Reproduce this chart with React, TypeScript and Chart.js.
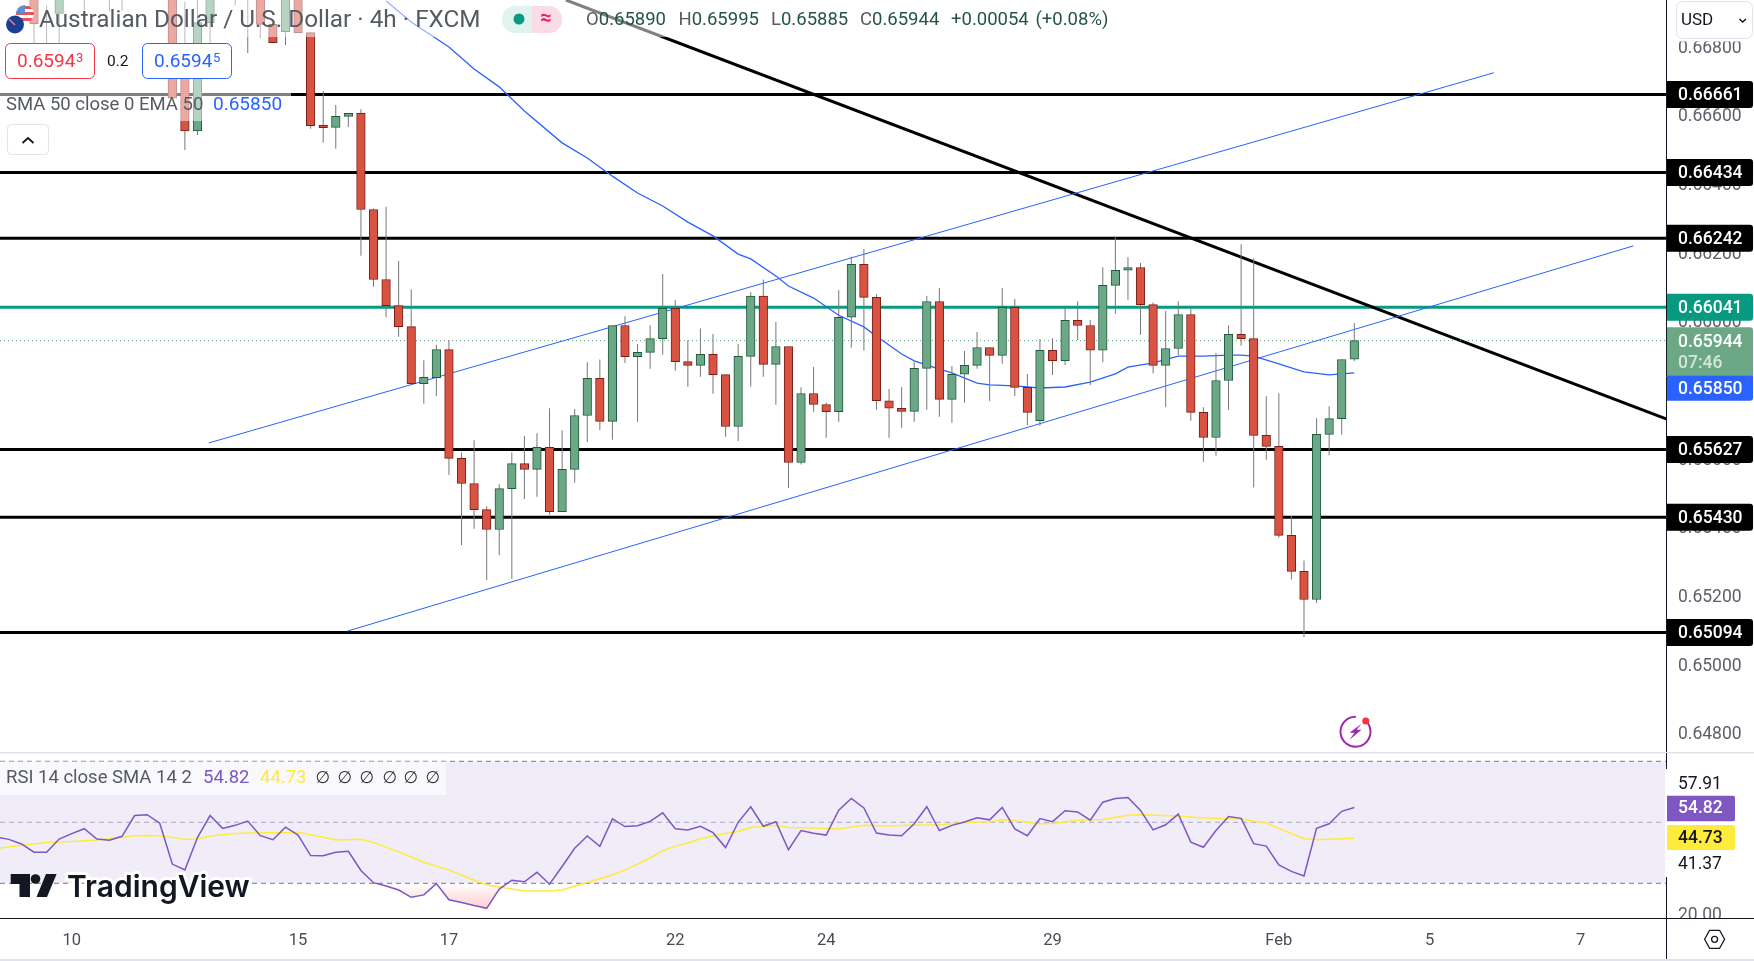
import React, { useEffect, useRef } from "react";
import { Chart, registerables } from "chart.js";

Chart.register(...registerables);

const FONT = "Roboto, 'DejaVu Sans', sans-serif";

// candle index 0 is the first bar in view; tops above 0.669 are off the visible range
const opens = [
  0.6699, 0.6679, 0.66897, 0.6677, 0.6696, 0.67, 0.6699, 0.6696, 0.6699, 0.6679, 0.6677, 0.6699, 0.6672, 0.66555,
  0.6687, 0.6678, 0.6696, 0.6699, 0.6699, 0.66865, 0.66844, 0.6699, 0.66841, 0.66571, 0.66565, 0.66597, 0.66606,
  0.66326, 0.66122, 0.66046, 0.65985, 0.65819, 0.65836, 0.65918, 0.65601, 0.65528, 0.65452, 0.65394, 0.65513,
  0.65586, 0.65569, 0.65633, 0.65446, 0.65569, 0.65726, 0.65834, 0.65709, 0.65988, 0.65897, 0.6591, 0.6595, 0.66038,
  0.65883, 0.65872, 0.65904, 0.65845, 0.65694, 0.65898, 0.66074, 0.65875, 0.65927, 0.65589, 0.6579, 0.65758, 0.65737,
  0.66012, 0.66166, 0.6607, 0.65769, 0.65747, 0.65738, 0.65863, 0.66058, 0.65773, 0.65846, 0.65872, 0.65924, 0.65901,
  0.66041, 0.65808, 0.65711, 0.65916, 0.65886, 0.66003, 0.65988, 0.65916, 0.66105, 0.66149, 0.66157, 0.66049, 0.65872,
  0.65921, 0.6602, 0.65735, 0.65662, 0.65828, 0.65962, 0.6595, 0.65668, 0.65636, 0.65377, 0.65272, 0.6519, 0.65671,
  0.65717, 0.6589,
];
const highs = [
  0.6702, 0.66921, 0.6702, 0.668, 0.6701, 0.6702, 0.6701, 0.67, 0.6703, 0.668, 0.66805, 0.6701, 0.66931, 0.6695,
  0.6701, 0.668, 0.6701, 0.6702, 0.6701, 0.66865, 0.6701, 0.6701, 0.66841, 0.66671, 0.6663, 0.66606, 0.66618, 0.66329,
  0.66334, 0.66176, 0.66094, 0.65887, 0.65931, 0.65945, 0.65618, 0.65654, 0.65462, 0.65526, 0.65618, 0.65666, 0.65674,
  0.65747, 0.65683, 0.65745, 0.65881, 0.65889, 0.65988, 0.66015, 0.65934, 0.65989, 0.66138, 0.66062, 0.65945, 0.65979,
  0.65963, 0.65845, 0.65934, 0.66085, 0.66122, 0.65998, 0.65927, 0.65808, 0.65867, 0.65764, 0.66091, 0.66188, 0.66211,
  0.66079, 0.65803, 0.65809, 0.65882, 0.66074, 0.66097, 0.6587, 0.65914, 0.65969, 0.65924, 0.66097, 0.66065, 0.65847,
  0.65949, 0.65951, 0.66041, 0.66059, 0.66004, 0.66158, 0.66247, 0.66187, 0.6617, 0.66055, 0.6603, 0.66059, 0.66036,
  0.6575, 0.65908, 0.65989, 0.66225, 0.66183, 0.65782, 0.65791, 0.65433, 0.65304, 0.65718, 0.65753, 0.65889, 0.65995,
];
const lows = [
  0.6681, 0.6672, 0.6681, 0.6673, 0.66907, 0.6696, 0.66902, 0.66905, 0.6695, 0.6674, 0.6673, 0.6665, 0.66499, 0.66543,
  0.6681, 0.6673, 0.66921, 0.66782, 0.66826, 0.66812, 0.66805, 0.66841, 0.66561, 0.6652, 0.66503, 0.66566, 0.66191,
  0.66101, 0.66012, 0.65955, 0.65814, 0.6576, 0.65783, 0.65553, 0.65349, 0.65396, 0.65247, 0.6532, 0.6525, 0.65483,
  0.65489, 0.65437, 0.65446, 0.6553, 0.65649, 0.65684, 0.65655, 0.65879, 0.65708, 0.65862, 0.65903, 0.65856, 0.6581,
  0.65839, 0.65789, 0.65664, 0.65652, 0.6581, 0.65839, 0.65757, 0.65515, 0.65583, 0.65737, 0.65661, 0.65708, 0.65923,
  0.65915, 0.65743, 0.65661, 0.6569, 0.65708, 0.65743, 0.65722, 0.65705, 0.65763, 0.65862, 0.65768, 0.65877, 0.65783,
  0.65698, 0.65696, 0.65844, 0.65873, 0.65946, 0.65815, 0.65881, 0.66022, 0.66063, 0.65961, 0.65848, 0.65751, 0.65902,
  0.65711, 0.65591, 0.65609, 0.65742, 0.65929, 0.65516, 0.65597, 0.6537, 0.65248, 0.65081, 0.6518, 0.6561, 0.6567,
  0.65885,
];
const closes = [
  0.66866, 0.6677, 0.6699, 0.6679, 0.6699, 0.6698, 0.6696, 0.6699, 0.6701, 0.6677, 0.6679, 0.6665, 0.66555, 0.6687,
  0.6699, 0.6676, 0.6699, 0.6696, 0.66865, 0.66812, 0.6699, 0.66841, 0.6657, 0.66564, 0.66597, 0.66606, 0.66326,
  0.66122, 0.66046, 0.65985, 0.65819, 0.65837, 0.65918, 0.65601, 0.65528, 0.65452, 0.65394, 0.65513, 0.65586, 0.65569,
  0.65633, 0.65446, 0.65569, 0.65726, 0.65834, 0.65709, 0.65988, 0.65897, 0.6591, 0.6595, 0.66038, 0.65883, 0.65872,
  0.65904, 0.65845, 0.65694, 0.65898, 0.66074, 0.65875, 0.65927, 0.65589, 0.6579, 0.65758, 0.65737, 0.66012, 0.66166,
  0.6607, 0.65769, 0.65747, 0.65738, 0.65863, 0.66058, 0.65773, 0.65846, 0.65872, 0.65924, 0.65901, 0.66041, 0.65808,
  0.65735, 0.65916, 0.65886, 0.66003, 0.65988, 0.65916, 0.66105, 0.66149, 0.66157, 0.66049, 0.65872, 0.65921, 0.6602,
  0.65735, 0.65662, 0.65828, 0.65962, 0.6595, 0.65668, 0.65636, 0.65377, 0.65272, 0.6519, 0.65671, 0.65717, 0.65889,
  0.65944,
];

const emaIndex = [
  28, 30, 33, 35, 37, 39, 42, 44, 46, 48, 50, 52, 54, 56, 57, 59, 60, 62, 64, 66, 67, 69, 70, 72, 73, 75, 76, 78, 80,
  82, 84, 86, 87, 89, 91, 93, 95, 96, 97, 99, 101, 103, 104, 105,
];
const emaValues = [
  0.66933, 0.66872, 0.66799, 0.66735, 0.66683, 0.66613, 0.6652, 0.66476, 0.66423, 0.66374, 0.66336, 0.66289, 0.66249,
  0.66196, 0.66182, 0.66132, 0.66103, 0.66068, 0.66018, 0.65984, 0.65957, 0.65905, 0.65885, 0.65861, 0.6585, 0.6582,
  0.65815, 0.65812, 0.65806, 0.65809, 0.65823, 0.65847, 0.65867, 0.65879, 0.65899, 0.65899, 0.65902, 0.65902, 0.65899,
  0.65876, 0.65853, 0.65844, 0.65847, 0.6585,
];

// rsi starts three bars before index 0, just off the left edge
const rsiStart = -3;
const rsiValues = [
  45.2, 44.4, 42.9, 40.2, 40.2, 44.5, 46.3, 47.9, 44.5, 44.1, 45.4, 52.2, 52.5, 49.7, 36.3, 34.4, 45.0, 52.2, 48.0,
  49.0, 50.4, 45.6, 44.3, 48.4, 45.8, 39.1, 39.0, 40.2, 40.5, 34.2, 30.2, 29.1, 27.8, 25.4, 26.2, 29.9, 24.6, 23.7,
  22.7, 21.8, 28.1, 31.0, 30.5, 33.6, 29.7, 35.5, 41.5, 45.5, 42.1, 51.1, 48.6, 48.9, 50.3, 53.1, 47.9, 47.5, 48.7,
  46.6, 41.7, 50.0, 55.1, 48.7, 50.2, 41.0, 47.3, 46.4, 45.8, 54.0, 57.8, 54.7, 46.5, 45.8, 45.6, 49.5, 55.1, 47.3,
  49.0, 50.1, 51.5, 50.8, 54.9, 47.8, 45.6, 51.2, 50.2, 53.8, 53.4, 50.7, 56.6, 57.8, 58.1, 53.9, 47.5, 49.2, 52.7,
  43.5, 41.8, 47.3, 51.9, 51.3, 43.0, 42.2, 36.0, 33.9, 32.4, 48.0, 49.5, 53.6, 54.82,
];
const smaIndex = [
  -3, -1, 1, 3, 5, 6, 8, 9, 10, 12, 13, 14, 16, 18, 20, 21, 23, 24, 26, 27, 29, 31, 33, 35, 36, 37, 39, 41, 42, 43, 45,
  46, 47, 48, 49, 50, 51, 52, 53, 54, 55, 56, 57, 59, 60, 62, 64, 66, 68, 70, 72, 74, 76, 77, 78, 80, 81, 83, 85, 87,
  88, 91, 93, 95, 96, 98, 99, 101, 102, 105,
];
const smaValues = [
  41.4, 42.5, 43.4, 43.7, 44.2, 44.6, 45.6, 45.7, 45.6, 44.4, 44.5, 45.5, 46.3, 46.6, 46.6, 46.7, 45.1, 44.2, 44.4,
  43.4, 40.3, 36.9, 34.4, 31.0, 29.5, 28.8, 27.5, 27.5, 27.8, 29.1, 31.5, 32.7, 34.4, 36.3, 38.3, 40.7, 42.1, 43.2,
  44.6, 45.5, 46.3, 47.0, 48.3, 49.0, 48.3, 48.1, 47.8, 49.0, 48.8, 49.1, 49.1, 49.9, 50.2, 50.8, 50.5, 49.5, 49.6,
  50.7, 50.9, 52.3, 52.5, 52.1, 51.4, 51.2, 51.1, 49.8, 48.0, 44.6, 44.3, 44.73,
];

const levels = [0.66661, 0.66434, 0.66242, 0.65627, 0.6543, 0.65094];
const pivotLevel = 0.66041;
const lastPrice = 0.65944;
const emaLast = 0.6585;
const priceTicks = [0.648, 0.65, 0.652, 0.654, 0.656, 0.658, 0.66, 0.662, 0.664, 0.666, 0.668];

const trendLine = { x: [42.3, 129.8], y: [0.66936, 0.65716] };
const channelUpper = { x: [13.9, 116.1], y: [0.65646, 0.66724] };
const channelLower = { x: [24.92, 127.2], y: [0.65098, 0.6622] };

const timeTicks = [3, 21, 33, 51, 63, 81, 99, 111, 123];
const timeLabels = ["10", "15", "17", "22", "24", "29", "Feb", "5", "7"];
const rsiTickValues = [63, 36.6, 20];
const rsiTickLabels = ["57.91", "41.37", "20.00"];

const xMin = -2.704;
const xMax = 129.79;
const UP = "#6ca886";
const UP_EDGE = "#1e5b3e";
const DOWN = "#d95342";
const DOWN_EDGE = "#7a1e18";
const BLUE = "#2962ff";
const TEAL = "#089981";
const PURPLE = "#7e57c2";
const YELLOW = "#ffeb3b";

type Ctx = CanvasRenderingContext2D;

// Roboto sits a bit high on a "middle" baseline, hence the 1.5
const text = (ctx: Ctx, s: string, x: number, y: number, color: string, size: number, weight = "400", align: CanvasTextAlign = "left") => {
  ctx.font = `${weight} ${size}px ${FONT}`;
  ctx.fillStyle = color;
  ctx.textAlign = align;
  ctx.textBaseline = "middle";
  ctx.fillText(s, x, y + 1.5);
};

const roundBox = (ctx: Ctx, x: number, y: number, w: number, h: number, r: number | number[], fill?: string, stroke?: string) => {
  ctx.beginPath();
  ctx.roundRect(x, y, w, h, r);
  if (fill) {
    ctx.fillStyle = fill;
    ctx.fill();
  }
  if (stroke) {
    ctx.strokeStyle = stroke;
    ctx.lineWidth = 1;
    ctx.stroke();
  }
};

const axisTag = (ctx: Ctx, label: string, y: number, fill: string, color = "#ffffff") => {
  roundBox(ctx, 1667, y - 13.5, 86, 27, [0, 3, 3, 0], fill);
  text(ctx, label, 1678, y, color, 17.5, "500");
};

const drawFlags = (ctx: Ctx) => {
  ctx.save();
  ctx.beginPath();
  ctx.arc(25, 14, 9, 0, Math.PI * 2);
  ctx.clip();
  ctx.fillStyle = "#ffffff";
  ctx.fillRect(15, 4, 20, 20);
  ctx.fillStyle = "#e8505b";
  ctx.fillRect(15, 6, 20, 3);
  ctx.fillRect(15, 12, 20, 3);
  ctx.fillRect(15, 18, 20, 3);
  ctx.fillStyle = "#5b8fd6";
  ctx.fillRect(15, 4, 10, 9);
  ctx.restore();
  ctx.beginPath();
  ctx.arc(15, 24.5, 9, 0, Math.PI * 2);
  ctx.fillStyle = "#1c3f94";
  ctx.fill();
  ctx.strokeStyle = "#e8808a";
  ctx.lineWidth = 1.5;
  ctx.beginPath();
  ctx.moveTo(9, 19);
  ctx.lineTo(15, 25);
  ctx.stroke();
};

const drawBolt = (ctx: Ctx) => {
  const cx = 1355.5;
  const cy = 731.7;
  ctx.strokeStyle = "#9c27b0";
  ctx.lineWidth = 2;
  ctx.beginPath();
  ctx.arc(cx, cy, 15, -0.9, Math.PI * 2 - 1.55);
  ctx.stroke();
  ctx.fillStyle = "#9c27b0";
  ctx.beginPath();
  ctx.moveTo(cx + 6, cy - 8);
  ctx.lineTo(cx - 6, cy + 1);
  ctx.lineTo(cx - 1, cy + 1);
  ctx.lineTo(cx - 6, cy + 8);
  ctx.lineTo(cx + 6, cy - 2);
  ctx.lineTo(cx + 1, cy - 2);
  ctx.closePath();
  ctx.fill();
  ctx.fillStyle = "#f23645";
  ctx.beginPath();
  ctx.arc(cx + 10.3, cy - 10.7, 3.6, 0, Math.PI * 2);
  ctx.fill();
};

const mainOverlay = {
  id: "mainOverlay",
  afterDraw(chart: any) {
    const ctx: Ctx = chart.ctx;
    const y = chart.scales.y;
    ctx.save();

    // legend wash over the candles and lines
    ctx.fillStyle = "rgba(255,255,255,0.5)";
    ctx.fillRect(0, 0, 1115, 37);
    ctx.fillRect(0, 37, 236, 48);
    ctx.fillRect(0, 85, 291, 36);

    drawFlags(ctx);
    text(ctx, "Australian Dollar / U.S. Dollar · 4h · FXCM", 39, 19, "#555a63", 24.3);

    roundBox(ctx, 502, 6, 30, 27, [13, 0, 0, 13], "#e0f3ef");
    roundBox(ctx, 532, 6, 30, 27, [0, 13, 13, 0], "#fbdbe6");
    ctx.fillStyle = TEAL;
    ctx.beginPath();
    ctx.arc(519, 19, 5.5, 0, Math.PI * 2);
    ctx.fill();
    text(ctx, "≈", 546, 17, "#e91e63", 20, "700", "center");

    const ohlc: [string, string, number][] = [
      ["O", "0.65890", 586],
      ["H", "0.65995", 678.5],
      ["L", "0.65885", 771],
      ["C", "0.65944", 860],
    ];
    ohlc.forEach(([k, v, x]) => {
      text(ctx, k, x, 19, "#555a63", 18.5);
      const w = ctx.measureText(k).width;
      text(ctx, v, x + w, 19, "#24563f", 18.5);
    });
    text(ctx, "+0.00054", 951, 19, "#24563f", 18.5);
    text(ctx, "(+0.08%)", 1035.5, 19, "#24563f", 18.5);

    roundBox(ctx, 5.5, 43.5, 89, 35, 5, "#ffffff", "#f23645");
    text(ctx, "0.6594", 17, 61, "#f23645", 19);
    text(ctx, "3", 76, 57.5, "#f23645", 13);
    text(ctx, "0.2", 107, 61, "#131722", 15.5);
    roundBox(ctx, 142.5, 43.5, 89, 35, 5, "#ffffff", BLUE);
    text(ctx, "0.6594", 154, 61, BLUE, 19);
    text(ctx, "5", 213, 57.5, BLUE, 13);

    text(ctx, "SMA 50 close 0 EMA 50", 6, 103.5, "#555a63", 18.5);
    text(ctx, "0.65850", 213, 103.5, BLUE, 19);

    roundBox(ctx, 7.5, 124.5, 41, 30, 4, "#ffffff", "#e0e3eb");
    ctx.strokeStyle = "#131722";
    ctx.lineWidth = 1.8;
    ctx.beginPath();
    ctx.moveTo(22.5, 143);
    ctx.lineTo(28, 138);
    ctx.lineTo(33.5, 143);
    ctx.stroke();

    drawBolt(ctx);

    // price axis labels, then the tags that sit over them
    y.ticks.forEach((t: any) => {
      text(ctx, t.value.toFixed(5), 1678, y.getPixelForValue(t.value), "#5d606b", 17.5);
    });
    ctx.fillStyle = "#ffffff";
    ctx.fillRect(1667, 0, 87, 41.5);
    roundBox(ctx, 1676.5, 1.5, 76, 37, 6, "#ffffff", "#e0e3eb");
    text(ctx, "USD", 1681, 19, "#131722", 17);
    ctx.strokeStyle = "#131722";
    ctx.lineWidth = 1.5;
    ctx.beginPath();
    ctx.moveTo(1739.5, 19);
    ctx.lineTo(1742.7, 22);
    ctx.lineTo(1745.9, 19);
    ctx.stroke();

    levels.forEach((v) => axisTag(ctx, v.toFixed(5), y.getPixelForValue(v), "#000000"));
    axisTag(ctx, pivotLevel.toFixed(5), y.getPixelForValue(pivotLevel), TEAL);

    const lastY = y.getPixelForValue(lastPrice);
    roundBox(ctx, 1667, lastY - 13.5, 86, 48, [0, 3, 0, 0], UP);
    text(ctx, lastPrice.toFixed(5), 1678, lastY, "#ffffff", 17.5, "500");
    text(ctx, "07:46", 1678, lastY + 21, "#d3e6da", 17.5, "500");
    roundBox(ctx, 1667, lastY + 34.5, 86, 25.5, [0, 0, 3, 0], BLUE);
    text(ctx, emaLast.toFixed(5), 1678, lastY + 47, "#ffffff", 17.5, "500");

    ctx.restore();
  },
};

const drawLogo = (ctx: Ctx) => {
  ctx.fillStyle = "#131722";
  ctx.beginPath();
  ctx.moveTo(10.7, 874);
  ctx.lineTo(30, 874);
  ctx.lineTo(30, 897);
  ctx.lineTo(19.5, 897);
  ctx.lineTo(19.5, 884);
  ctx.lineTo(10.7, 884);
  ctx.closePath();
  ctx.fill();
  ctx.beginPath();
  ctx.arc(35.5, 879, 4.8, 0, Math.PI * 2);
  ctx.fill();
  ctx.beginPath();
  ctx.moveTo(46, 874);
  ctx.lineTo(56.6, 874);
  ctx.lineTo(47, 897);
  ctx.lineTo(36.5, 897);
  ctx.closePath();
  ctx.fill();
};

const rsiOverlay = {
  id: "rsiOverlay",
  afterDraw(chart: any) {
    const ctx: Ctx = chart.ctx;
    const y = chart.scales.y;
    ctx.save();
    ctx.translate(0, -752);

    ctx.fillStyle = "rgba(255,255,255,0.6)";
    ctx.fillRect(0, 761.5, 446, 33.5);
    text(ctx, "RSI 14 close SMA 14 2", 6, 777, "#555a63", 18.5);
    text(ctx, "54.82", 203, 777, PURPLE, 18.5);
    text(ctx, "44.73", 260, 777, YELLOW, 18.5);
    [323, 345, 367, 390, 411, 433].forEach((x) => text(ctx, "∅", x, 777, "#333333", 17, "400", "center"));

    // white halo around the watermark
    ctx.font = `600 30px Inter, ${FONT}`;
    ctx.textAlign = "left";
    ctx.textBaseline = "middle";
    ctx.strokeStyle = "rgba(255,255,255,0.95)";
    ctx.lineWidth = 6;
    ctx.lineJoin = "round";
    ctx.strokeText("TradingView", 67, 888);
    ctx.fillStyle = "#131722";
    ctx.fillText("TradingView", 67, 888);
    drawLogo(ctx);

    y.ticks.forEach((t: any, i: number) => {
      const label = rsiTickLabels[rsiTickValues.indexOf(t.value)];
      text(ctx, label, 1678, y.getPixelForValue(t.value) + 752, i === 2 ? "#5d606b" : "#131722", 17.5);
    });

    // the axis strip: gap in the border next to the tags, clipped 20.00 label
    ctx.fillStyle = "#ffffff";
    ctx.fillRect(1665, 769, 3, 108);
    ctx.fillRect(1667, 918, 87, 43);
    ctx.fillRect(0, 752, 1754, 2);
    ctx.fillStyle = "#e0e3eb";
    ctx.fillRect(0, 751, 1754, 2.5);
    ctx.fillRect(0, 959, 1754, 2);
    ctx.fillStyle = "#131722";
    ctx.fillRect(0, 918, 1754, 1);
    ctx.fillRect(1666, 753, 1, 16);
    ctx.fillRect(1666, 918, 1, 41);

    roundBox(ctx, 1667, 795.7, 68, 25.5, [0, 2, 2, 0], PURPLE);
    text(ctx, "54.82", 1678, 807.5, "#ffffff", 17.5, "500");
    roundBox(ctx, 1667, 825, 68, 25, [0, 2, 2, 0], YELLOW);
    text(ctx, "44.73", 1678, 837.5, "#131722", 17.5, "500");

    // settings hexagon
    const hx = 1714.6;
    const hy = 939.3;
    ctx.strokeStyle = "#131722";
    ctx.lineWidth = 1.3;
    ctx.beginPath();
    [[-10, 0], [-5, -9], [5, -9], [10, 0], [5, 9], [-5, 9]].forEach(([dx, dy], i) => {
      if (i === 0) ctx.moveTo(hx + dx, hy + dy);
      else ctx.lineTo(hx + dx, hy + dy);
    });
    ctx.closePath();
    ctx.stroke();
    ctx.beginPath();
    ctx.arc(hx, hy, 3, 0, Math.PI * 2);
    ctx.stroke();
    ctx.restore();
  },
};

const flatLine = (value: number, color: string, width: number, order: number, dash: number[] = []) => ({
  type: "line" as const,
  data: [
    { x: xMin, y: value },
    { x: xMax, y: value },
  ],
  borderColor: color,
  borderWidth: width,
  borderDash: dash,
  pointRadius: 0,
  order,
});

const segment = (line: { x: number[]; y: number[] }, color: string, width: number, order: number) => ({
  type: "line" as const,
  data: line.x.map((x, i) => ({ x, y: line.y[i] })),
  borderColor: color,
  borderWidth: width,
  pointRadius: 0,
  order,
});

// keep the plot area flush with the top and bottom of the canvas
const fixRightAxis = (s: any) => {
  s.width = 88;
  s.paddingTop = 0;
  s.paddingBottom = 0;
};

const App: React.FC = () => {
  const mainRef = useRef<HTMLCanvasElement>(null);
  const rsiRef = useRef<HTMLCanvasElement>(null);

  useEffect(() => {
    if (!mainRef.current || !rsiRef.current) return;
    const isUp = (i: number) => closes[i] >= opens[i];

    const main = new Chart(mainRef.current, {
      type: "bar",
      data: {
        datasets: [
          {
            data: opens.map((o, i) => ({ x: i, y: [o, closes[i]] })),
            backgroundColor: opens.map((_, i) => (isUp(i) ? UP : DOWN)),
            borderColor: opens.map((_, i) => (isUp(i) ? UP_EDGE : DOWN_EDGE)),
            borderWidth: 1,
            borderSkipped: false,
            barThickness: 8.6,
            stack: "candle",
            order: 1,
          },
          {
            data: lows.map((l, i) => ({ x: i, y: [l, highs[i]] })),
            backgroundColor: "#777777",
            barThickness: 1,
            inflateAmount: 0,
            stack: "candle",
            order: 2,
          },
          {
            type: "line",
            data: emaIndex.map((x, i) => ({ x, y: emaValues[i] })),
            borderColor: BLUE,
            borderWidth: 1.3,
            pointRadius: 0,
            order: 3,
          },
          segment(channelUpper, BLUE, 1, 4),
          segment(channelLower, BLUE, 1, 4),
          flatLine(lastPrice, "#5f9e7c", 1, 5, [1, 3]),
          segment(trendLine, "#000000", 3, 6),
          flatLine(pivotLevel, TEAL, 3, 7),
          ...levels.map((v) => flatLine(v, "#000000", 3, 8)),
        ] as any,
      },
      options: {
        responsive: false,
        animation: false,
        events: [],
        layout: { padding: 0 },
        plugins: { legend: { display: false }, tooltip: { enabled: false } },
        scales: {
          x: { type: "linear", min: xMin, max: xMax, display: false, offset: false },
          y: {
            position: "right",
            stacked: false,
            min: 0.64746,
            max: 0.66936,
            afterFit: fixRightAxis,
            afterBuildTicks: (s: any) => {
              s.ticks = priceTicks.map((value) => ({ value }));
            },
            grid: { display: false, drawTicks: false },
            border: { display: true, color: "#131722", width: 1 },
            ticks: { display: false, autoSkip: false },
          },
        },
      },
      plugins: [mainOverlay],
    });

    const rsiCtx = rsiRef.current.getContext("2d") as CanvasRenderingContext2D;
    const oversold = rsiCtx.createLinearGradient(0, 131, 0, 162);
    oversold.addColorStop(0, "rgba(242,54,69,0)");
    oversold.addColorStop(1, "rgba(242,54,69,0.3)");

    const rsi = new Chart(rsiRef.current, {
      type: "line",
      data: {
        datasets: [
          {
            data: rsiValues.map((y, i) => ({ x: rsiStart + i, y })),
            borderColor: PURPLE,
            borderWidth: 1.5,
            pointRadius: 0,
            fill: { target: { value: 30 }, above: "rgba(0,0,0,0)", below: oversold },
            order: 1,
          },
          {
            data: smaIndex.map((x, i) => ({ x, y: smaValues[i] })),
            borderColor: YELLOW,
            borderWidth: 1.5,
            pointRadius: 0,
            order: 2,
          },
          { ...flatLine(70, "#787b86", 1, 3, [5, 4]), fill: { target: { value: 30 } }, backgroundColor: "rgba(126,87,194,0.115)" },
          flatLine(50, "#b2b5be", 1, 3, [5, 4]),
          flatLine(30, "#787b86", 1, 3, [5, 4]),
        ] as any,
      },
      options: {
        responsive: false,
        animation: false,
        events: [],
        layout: { padding: { top: 2, bottom: 0, left: 0, right: 0 } },
        plugins: { legend: { display: false }, tooltip: { enabled: false } },
        scales: {
          x: {
            type: "linear",
            min: xMin,
            max: xMax,
            afterFit: (s: any) => {
              s.height = 43;
              s.paddingLeft = 0;
              s.paddingRight = 0;
            },
            afterBuildTicks: (s: any) => {
              s.ticks = timeTicks.map((value) => ({ value }));
            },
            grid: { display: false, drawTicks: false },
            border: { display: false },
            ticks: {
              autoSkip: false,
              maxRotation: 0,
              padding: 13,
              color: "#4a4d57",
              font: { family: FONT, size: 16.5 },
              callback: (v: any) => timeLabels[timeTicks.indexOf(Number(v))],
            },
          },
          y: {
            position: "right",
            min: 18.62,
            max: 72.39,
            afterFit: fixRightAxis,
            afterBuildTicks: (s: any) => {
              s.ticks = rsiTickValues.map((value) => ({ value }));
            },
            grid: { display: false, drawTicks: false },
            border: { display: true, color: "#131722", width: 1 },
            ticks: { display: false, autoSkip: false },
          },
        },
      },
      plugins: [rsiOverlay],
    });

    return () => {
      main.destroy();
      rsi.destroy();
    };
  }, []);

  return (
    <div style={{ position: "fixed", left: 0, top: 0, width: 1754, height: 961, background: "#ffffff", overflow: "hidden" }}>
      <canvas ref={mainRef} width={1754} height={752} style={{ position: "absolute", left: 0, top: 0 }} />
      <canvas ref={rsiRef} width={1754} height={209} style={{ position: "absolute", left: 0, top: 752 }} />
    </div>
  );
};

export default App;
